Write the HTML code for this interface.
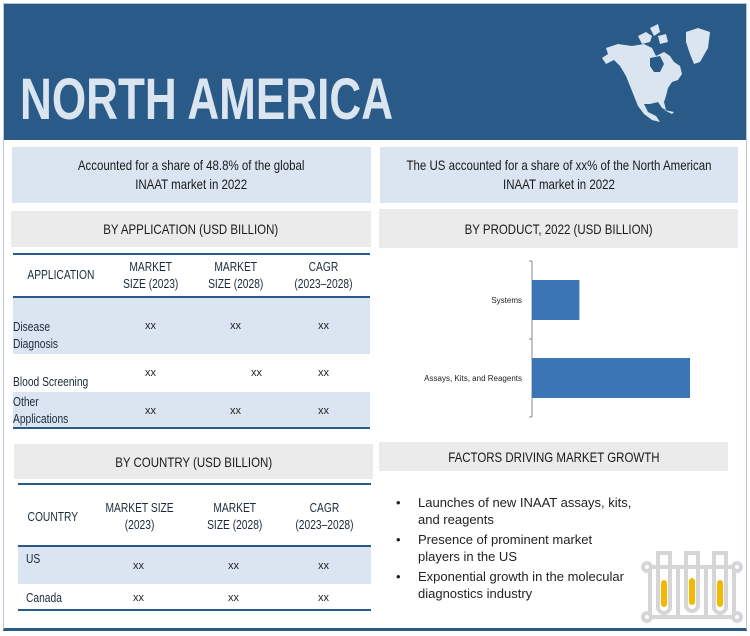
<!DOCTYPE html>
<html><head><meta charset="utf-8">
<style>
*{margin:0;padding:0;box-sizing:border-box}
body{width:750px;height:636px;background:#fff;position:relative;overflow:hidden;font-family:"Liberation Sans",sans-serif;color:#1f2d3d}
.abs{position:absolute}
.c{display:flex;align-items:center;justify-content:center;text-align:center}
.n{display:inline-block;transform:scaleX(0.82);white-space:nowrap}
.hdr{font-size:14px;color:#1a1a1a}
.cell{position:absolute;font-size:12.5px;text-align:center;line-height:17px;color:#1a2a3a}
.xx{position:absolute;font-size:11px;color:#222}
.bul{position:absolute;font-size:13px;color:#222;line-height:17px}
</style></head><body>
<div class="abs" style="left:3px;top:3px;width:744px;height:628px;border:1px solid #b7c7d8;border-bottom:3px solid #2a5a87"></div>
<div class="abs" style="left:4px;top:4px;width:742px;height:136px;background:#2a5a87"></div>
<div class="abs" style="left:20px;top:68px;font-size:58px;font-weight:bold;color:#dbe5f0;line-height:64px"><span class="n" style="transform:scaleX(0.76);transform-origin:left">NORTH AMERICA</span></div>
<svg class="abs" style="left:598px;top:22px" width="115" height="100" viewBox="0 0 115 100">
<path fill="#dbe5f0" d="M8 26 L20 22 L34 24 L46 22 L54 26 L58 34 L66 30 L72 34 L76 40 L82 44 L84 52 L80 58 L74 60 L70 66 L68 74 L66 80 L68 88 L64 86 L60 80 L52 82 L46 82 L50 90 L58 94 L62 100 L54 98 L46 92 L40 84 L36 74 L32 64 L28 54 L22 44 L16 38 L8 42 L4 36 L10 32 Z"/>
<path fill="#2a5a87" d="M52 36 L62 34 L66 42 L62 50 L56 50 L52 44 Z"/>
<path fill="#dbe5f0" d="M40 14 L48 10 L54 14 L52 20 L44 22 Z M52 6 L60 2 L62 10 L56 14 Z M60 14 L68 12 L70 20 L62 22 Z"/>
<path fill="#dbe5f0" d="M88 10 L100 6 L112 10 L110 26 L102 40 L96 42 L92 32 L88 20 Z"/>
<path fill="#dbe5f0" d="M66 88 L76 90 L74 92 Z"/>
</svg>

<div class="abs c" style="left:12px;top:147px;width:359px;height:56px;background:#dae5f1;font-size:14px;line-height:19px;color:#1a1a1a"><span class="n">Accounted for a share of 48.8% of the global<br>INAAT market in 2022</span></div>
<div class="abs c" style="left:380px;top:147px;width:358px;height:56px;background:#dae5f1;font-size:14px;line-height:19px;color:#1a1a1a"><span class="n">The US accounted for a share of xx% of the North American<br>INAAT market in 2022</span></div>

<div class="abs c hdr" style="left:11px;top:211px;width:360px;height:36px;background:#ebebeb"><span class="n">BY APPLICATION (USD BILLION)</span></div>
<div class="abs c hdr" style="left:379px;top:209px;width:359px;height:39px;background:#ebebeb"><span class="n">BY PRODUCT, 2022 (USD BILLION)</span></div>

<div class="abs" style="left:13px;top:253px;width:357px;height:176px">
 <div class="abs" style="left:0;top:0;width:357px;height:2px;background:#2a5a87"></div>
 <div class="abs" style="left:0;top:43px;width:357px;height:2px;background:#2a5a87"></div>
 <div class="abs" style="left:0;top:45px;width:357px;height:56px;background:#dae5f1"></div>
 <div class="abs" style="left:0;top:139px;width:357px;height:35px;background:#dae5f1"></div>
 <div class="abs" style="left:0;top:174px;width:357px;height:2px;background:#2a5a87"></div>
 <div class="cell" style="left:0;top:14px;width:95px"><span class="n">APPLICATION</span></div>
 <div class="cell" style="left:100px;top:6px;width:75px"><span class="n">MARKET<br>SIZE (2023)</span></div>
 <div class="cell" style="left:185px;top:6px;width:75px"><span class="n">MARKET<br>SIZE (2028)</span></div>
 <div class="cell" style="left:268px;top:6px;width:85px"><span class="n">CAGR<br>(2023–2028)</span></div>
 <div class="cell" style="left:0;top:66px;text-align:left"><span class="n" style="transform-origin:left">Disease<br>Diagnosis</span></div>
 <div class="cell" style="left:0;top:121px;text-align:left"><span class="n" style="transform-origin:left">Blood Screening</span></div>
 <div class="cell" style="left:0;top:141px;text-align:left"><span class="n" style="transform-origin:left">Other<br>Applications</span></div>
 <div class="xx" style="left:132px;top:67px">xx</div><div class="xx" style="left:217px;top:67px">xx</div><div class="xx" style="left:305px;top:67px">xx</div>
 <div class="xx" style="left:132px;top:114px">xx</div><div class="xx" style="left:238px;top:114px">xx</div><div class="xx" style="left:305px;top:114px">xx</div>
 <div class="xx" style="left:132px;top:152px">xx</div><div class="xx" style="left:217px;top:152px">xx</div><div class="xx" style="left:305px;top:152px">xx</div>
</div>

<div class="abs c hdr" style="left:14px;top:444px;width:359px;height:35px;background:#ebebeb"><span class="n">BY COUNTRY (USD BILLION)</span></div>

<div class="abs" style="left:18px;top:483px;width:353px;height:129px">
 <div class="abs" style="left:0;top:0;width:353px;height:2px;background:#2a5a87"></div>
 <div class="abs" style="left:0;top:62px;width:353px;height:2px;background:#2a5a87"></div>
 <div class="abs" style="left:0;top:64px;width:353px;height:37px;background:#dae5f1"></div>
 <div class="abs" style="left:0;top:126px;width:353px;height:2px;background:#2a5a87"></div>
 <div class="cell" style="left:0;top:26px;width:70px"><span class="n">COUNTRY</span></div>
 <div class="cell" style="left:80px;top:17px;width:80px"><span class="n">MARKET SIZE<br>(2023)</span></div>
 <div class="cell" style="left:177px;top:17px;width:80px"><span class="n">MARKET<br>SIZE (2028)</span></div>
 <div class="cell" style="left:264px;top:17px;width:85px"><span class="n">CAGR<br>(2023–2028)</span></div>
 <div class="cell" style="left:8px;top:68px;text-align:left"><span class="n" style="transform-origin:left">US</span></div>
 <div class="cell" style="left:8px;top:107px;text-align:left"><span class="n" style="transform-origin:left">Canada</span></div>
 <div class="xx" style="left:115px;top:77px">xx</div><div class="xx" style="left:210px;top:77px">xx</div><div class="xx" style="left:300px;top:77px">xx</div>
 <div class="xx" style="left:115px;top:109px">xx</div><div class="xx" style="left:210px;top:109px">xx</div><div class="xx" style="left:300px;top:109px">xx</div>
</div>

<svg class="abs" id="chart" style="left:375px;top:250px" width="370" height="180"></svg>

<div class="abs c hdr" style="left:379px;top:442px;width:349px;height:29px;background:#ebebeb"><span class="n">FACTORS DRIVING MARKET GROWTH</span></div>

<div>
<div class="bul" style="left:396px;top:494px">•</div>
<div class="bul" style="left:418px;top:494px">Launches of new INAAT assays, kits,<br>and reagents</div>
<div class="bul" style="left:396px;top:531px">•</div>
<div class="bul" style="left:418px;top:531px">Presence of prominent market<br>players in the US</div>
<div class="bul" style="left:396px;top:568px">•</div>
<div class="bul" style="left:418px;top:568px">Exponential growth in the molecular<br>diagnostics industry</div>
</div>

<svg class="abs" style="left:638px;top:545px" width="108" height="80" viewBox="0 0 108 80">
<g stroke="#d6d6d6" stroke-width="4" fill="none">
<path d="M12 22 H96 M12 72 H96 M12 22 V72 M96 22 V72 M40 22 V72 M68 22 V72"/>
<circle cx="9" cy="22" r="4" fill="#fff"/><circle cx="99" cy="22" r="4" fill="#fff"/>
<circle cx="9" cy="72" r="4" fill="#fff"/><circle cx="99" cy="72" r="4" fill="#fff"/>
<path d="M20 8 V62 a6 6 0 0 0 12 0 V8 M48 8 V60 a6 6 0 0 0 12 0 V8 M76 8 V62 a6 6 0 0 0 12 0 V8"/>
<path d="M18 8 H34 M46 8 H62 M74 8 H90"/>
</g>
<g fill="#f5b800">
<rect x="23" y="35" width="6" height="27" rx="3"/><rect x="51" y="33" width="6" height="27" rx="3"/><rect x="79" y="35" width="6" height="27" rx="3"/>
</g>
</svg>

<script>
const categories=["Systems","Assays, Kits, and Reagents"];
const values=[1.2,4.0];
const svg=document.getElementById('chart');
const NS="http://www.w3.org/2000/svg";
const x0=157, xScale=v=>x0+v*39.5;
const bandTop=11, bandH=78;
const yBand=i=>bandTop+i*bandH;
const ax=document.createElementNS(NS,'path');
ax.setAttribute('d',`M${x0} ${bandTop} V${bandTop+bandH*categories.length} M${x0-3} ${bandTop} H${x0} M${x0-3} ${bandTop+bandH} H${x0} M${x0-3} ${bandTop+2*bandH} H${x0}`);
ax.setAttribute('stroke','#888');ax.setAttribute('fill','none');


svg.appendChild(ax);
categories.forEach((c,i)=>{
 const r=document.createElementNS(NS,'rect');
 r.setAttribute('x',x0);r.setAttribute('y',yBand(i)+19);
 r.setAttribute('width',xScale(values[i])-x0);r.setAttribute('height',40);
 r.setAttribute('fill','#3a76b5');
 
 
 svg.appendChild(r);
 const t=document.createElementNS(NS,'text');
 t.setAttribute('x',x0-10);t.setAttribute('y',yBand(i)+42);
 t.setAttribute('text-anchor','end');t.setAttribute('font-size','8');
 t.setAttribute('font-family','Liberation Sans, sans-serif');t.setAttribute('fill','#222');
 t.textContent=c;
 
 
 svg.appendChild(t);
});
</script>
</body></html>
